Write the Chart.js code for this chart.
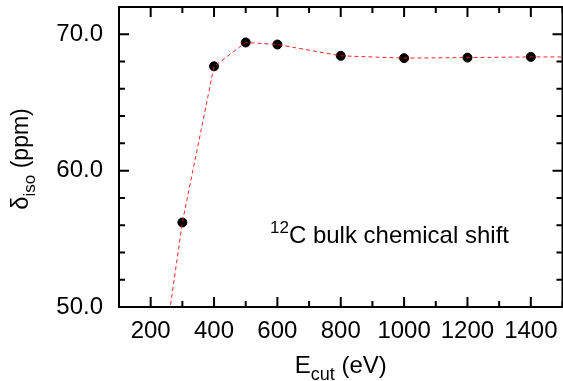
<!DOCTYPE html>
<html>
<head>
<meta charset="utf-8">
<script src="https://cdn.jsdelivr.net/npm/chart.js@4"></script>
<style>
  html, body { margin: 0; padding: 0; background: #fff; overflow: hidden; }
</style>
</head>
<body>
<canvas id="shift" width="568" height="381"></canvas>
<script>
const FONT = '"Liberation Sans", Arial, Helvetica, sans-serif';

// cutoff energy (eV) and isotropic shift (ppm)
const ecut = [200, 300, 400, 500, 600, 800, 1000, 1200, 1400, 1600];
const delta = [40.0, 56.2, 67.65, 69.4, 69.25, 68.42, 68.25, 68.29, 68.34, 68.33];

const xRange = [100, 1500];
const yRange = [50, 72];

function toPoints(xs, ys) {
    let pts = [];
    for (let i = 0; i < xs.length; i++) {
        pts.push({ x: xs[i], y: ys[i] });
    }
    return pts;
}

// mixed text with sub/superscript pieces, drawn left to right from (x, y)
function drawRuns(ctx, runs, x, y) {
    for (let r of runs) {
        ctx.font = r.size + 'px ' + FONT;
        ctx.fillText(r.text, x, y + (r.dy || 0));
        x += ctx.measureText(r.text).width;
    }
}

function runsWidth(ctx, runs) {
    let w = 0;
    for (let r of runs) {
        ctx.font = r.size + 'px ' + FONT;
        w += ctx.measureText(r.text).width;
    }
    return w;
}

// no extra room for half-labels at the ends of the axes
function noPad(s) {
    s.paddingLeft = 0;
    s.paddingRight = 0;
    s.paddingTop = 0;
    s.paddingBottom = 0;
}

const frame = {
    id: 'frame',
    afterDraw(chart) {
        const ctx = chart.ctx;
        const a = chart.chartArea;
        const xs = chart.scales.x;
        const ys = chart.scales.y;
        ctx.save();
        ctx.strokeStyle = '#000';
        ctx.lineWidth = 2;
        ctx.beginPath();
        for (let t of xs.ticks) {
            const px = xs.getPixelForValue(t.value);
            const len = t.value % 200 === 0 ? 10 : 6;
            ctx.moveTo(px, a.bottom); ctx.lineTo(px, a.bottom - len);
            ctx.moveTo(px, a.top); ctx.lineTo(px, a.top + len);
        }
        for (let t of ys.ticks) {
            const py = ys.getPixelForValue(t.value);
            const len = t.value % 10 === 0 ? 10 : 6;
            ctx.moveTo(a.left, py); ctx.lineTo(a.left + len, py);
            ctx.moveTo(a.right, py); ctx.lineTo(a.right - len, py);
        }
        ctx.stroke();
        ctx.strokeRect(a.left, a.top, a.right - a.left, a.bottom - a.top);

        ctx.fillStyle = '#000';
        ctx.textBaseline = 'alphabetic';
        ctx.textAlign = 'left';

        // x title
        const xt = [
            { text: 'E', size: 24 },
            { text: 'cut', size: 18, dy: 7 },
            { text: ' (eV)', size: 24 }
        ];
        const cx = (a.left + a.right) / 2;
        drawRuns(ctx, xt, cx - runsWidth(ctx, xt) / 2, 373);

        // y title
        const yt = [
            { text: 'δ', size: 24 },
            { text: 'iso', size: 17, dy: 7 },
            { text: ' (ppm)', size: 23 }
        ];
        ctx.save();
        ctx.translate(28, 159);
        ctx.rotate(-Math.PI / 2);
        drawRuns(ctx, yt, -runsWidth(ctx, yt) / 2, 0);
        ctx.restore();

        // annotation
        drawRuns(ctx, [
            { text: '12', size: 17, dy: -10 },
            { text: 'C bulk chemical shift', size: 24 }
        ], 270, 243);
        ctx.restore();
    }
};

new Chart(document.getElementById('shift').getContext('2d'), {
    type: 'scatter',
    data: {
        datasets: [
            {
                data: toPoints(ecut, delta),
                showLine: true,
                borderColor: 'rgba(255, 0, 0, 0.85)',
                borderWidth: 1,
                borderDash: [4, 3],
                pointRadius: 0,
                fill: false,
                order: 0
            },
            {
                data: toPoints(ecut, delta),
                showLine: false,
                backgroundColor: '#000',
                borderColor: '#000',
                pointRadius: 4.5,
                order: 1
            }
        ]
    },
    plugins: [frame],
    options: {
        responsive: false,
        animation: false,
        layout: { padding: { left: 0, right: 3, top: 7, bottom: 0 } },
        plugins: {
            legend: { display: false },
            tooltip: { enabled: false }
        },
        scales: {
            x: {
                type: 'linear',
                min: xRange[0],
                max: xRange[1],
                grid: { display: false, drawTicks: false },
                border: { display: false },
                ticks: {
                    stepSize: 100,
                    autoSkip: false,
                    maxRotation: 0,
                    padding: 10,
                    color: '#000',
                    font: { family: FONT, size: 24 },
                    callback: v => v % 200 === 0 ? String(v) : ''
                },
                afterFit: s => { s.height = 74; noPad(s); }
            },
            y: {
                min: yRange[0],
                max: yRange[1],
                grid: { display: false, drawTicks: false },
                border: { display: false },
                ticks: {
                    stepSize: 2,
                    autoSkip: false,
                    padding: 16,
                    color: '#000',
                    font: { family: FONT, size: 24 },
                    callback: v => v % 10 === 0 ? v.toFixed(1) : ''
                },
                afterFit: s => { s.width = 119; noPad(s); }
            }
        }
    }
});
</script>
</body>
</html>
